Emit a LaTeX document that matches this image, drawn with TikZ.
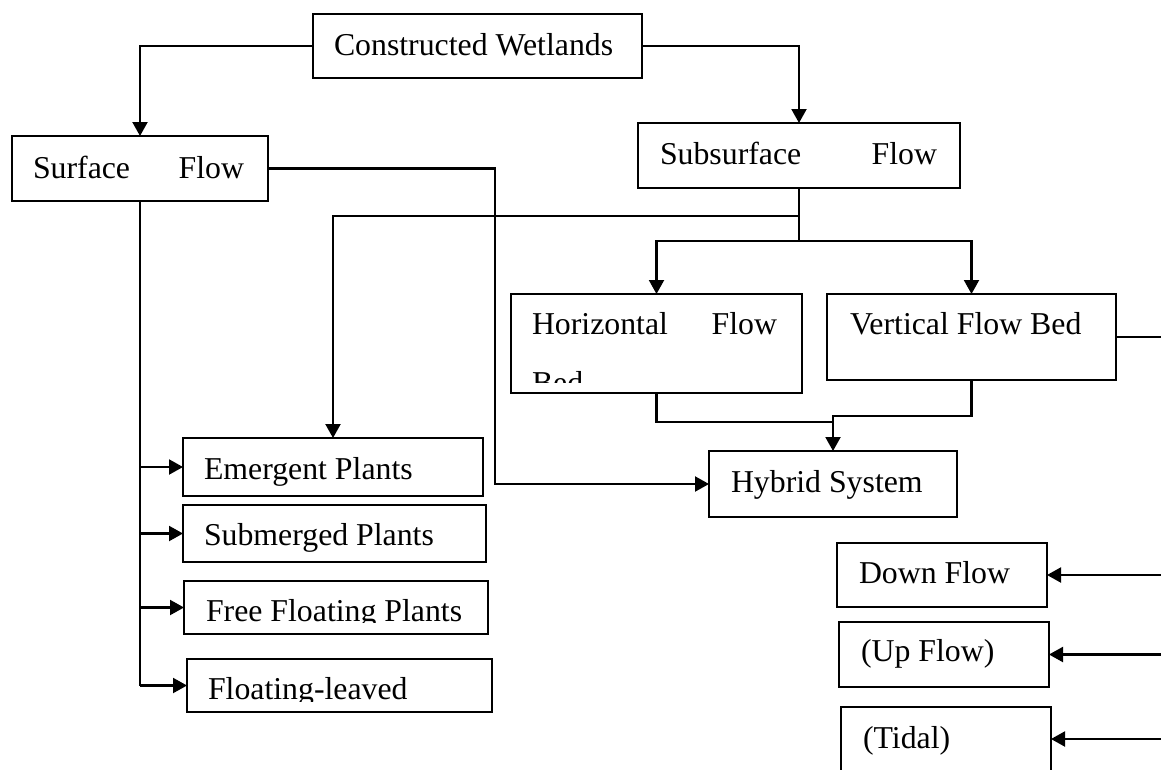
\documentclass[tikz,border=0pt]{standalone}
\usepackage{fontspec}
\setmainfont{Liberation Serif}
\usetikzlibrary{arrows.meta}

\begin{document}
\begin{tikzpicture}[x=1pt,y=-1pt,
  box/.style={draw, line width=2.8pt, rectangle, outer sep=0pt, inner sep=0pt, anchor=north west},
  lbl/.style={anchor=base west, inner sep=0pt, outer sep=0pt, font=\fontsize{31.8pt}{38pt}\selectfont},
  link/.style={line width=2.1pt},
  arr/.style={link, -{Triangle[length=14pt,width=15pt]}}]

\useasboundingbox (0,0) rectangle (1161,769);
\clip (0,0) rectangle (1161,769);

% boxes
\node[box, minimum width=329pt, minimum height=64pt] (cw) at (313,14) {};
\node[box, minimum width=256pt, minimum height=65pt] (sf) at (12,136) {};
\node[box, minimum width=322pt, minimum height=65pt] (ss) at (638,123) {};
\node[box, minimum width=291pt, minimum height=99pt] (hf) at (511,294) {};
\node[box, minimum width=289pt, minimum height=86pt] (vf) at (827,294) {};
\node[box, minimum width=248pt, minimum height=66pt] (hy) at (709,451) {};
\node[box, minimum width=300pt, minimum height=58pt] (em) at (183,438) {};
\node[box, minimum width=303pt, minimum height=57pt] (sm) at (183,505) {};
\node[box, minimum width=304pt, minimum height=53pt] (ff) at (184,581) {};
\node[box, minimum width=305pt, minimum height=53pt] (fl) at (187,659) {};
\node[box, minimum width=210pt, minimum height=64pt] (df) at (837,543) {};
\node[box, minimum width=210pt, minimum height=65pt] (uf) at (839,622) {};
\node[box, minimum width=210pt, minimum height=64pt] (td) at (841,707) {};

% labels
\node[lbl] (cwt) at (334,55) {Constructed Wetlands};
\node[lbl] (sft) at (33,178) {\makebox[211pt][s]{Surface Flow}};
\node[lbl] (sst) at (660,164) {\makebox[277pt][s]{Subsurface Flow}};
\node[lbl] (hft) at (532,334) {\makebox[245pt][s]{Horizontal Flow}};
\begin{scope}
  \clip (511,294) rectangle (802,382);
  \node[lbl] (hfb) at (532,393) {Bed};
\end{scope}
\node[lbl] (vft) at (850,334) {Vertical Flow Bed};
\node[lbl] (hyt) at (731,492) {Hybrid System};
\node[lbl] (emt) at (204,479) {Emergent Plants};
\node[lbl] (smt) at (204,545) {Submerged Plants};
\begin{scope}
  \clip (184,581) rectangle (488,622);
  \node[lbl] (fft) at (206,621) {Free Floating Plants};
\end{scope}
\begin{scope}
  \clip (187,659) rectangle (492,701);
  \node[lbl] (flt) at (208,699) {Floating-leaved};
\end{scope}
\node[lbl] (dft) at (859,583) {Down Flow};
\node[lbl] (uft) at (861,661) {(Up Flow)};
\node[lbl] (tdt) at (863,748) {(Tidal)};

% junction points
\coordinate (bus) at (0,241);
\coordinate (tap) at (0,216);
\coordinate (sfx) at (495,0);
\coordinate (hjoin) at (833,422);
\coordinate (vjoin) at (833,416);
\coordinate (rail) at (1175,0);

% connectors
\draw[arr] (cw.west) -| (sf.north);
\draw[arr] (cw.east) -| (ss.north);

\draw[arr] (sf.east) -| (sfx |- hy.west) -- (hy.west);

\draw[link] (sf.south) -- (sf.south |- fl.west);
\draw[arr] (sf.south |- em.west) -- (em.west);
\draw[arr] (sf.south |- sm.west) -- (sm.west);
\draw[arr] (sf.south |- ff.west) -- (ff.west);
\draw[arr] (sf.south |- fl.west) -- (fl.west);

\draw[link] (ss.south) -- (ss.south |- bus);
\draw[arr] (ss.south |- bus) -| (hf.north);
\draw[arr] (ss.south |- bus) -| (vf.north);
\draw[arr] (ss.south |- tap) -| (em.north);

\draw[link] (hf.south) |- (hjoin);
\draw[arr] (vf.south) |- (vjoin) -- (hy.north);

\draw[link] (vf.east) -- (rail |- vf.east);
\draw[arr] (rail |- df.east) -- (df.east);
\draw[arr] (rail |- uf.east) -- (uf.east);
\draw[arr] (rail |- td.east) -- (td.east);

\end{tikzpicture}
\end{document}
